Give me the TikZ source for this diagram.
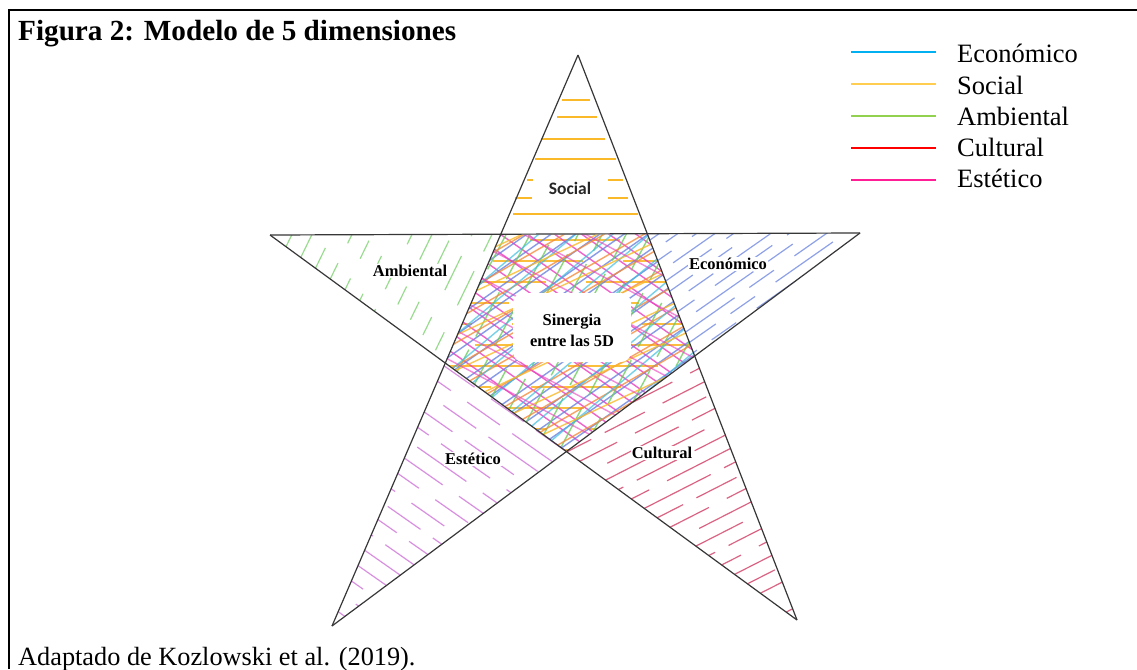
\documentclass[tikz,border=0pt]{standalone}
\usepackage{fontspec}
\setmainfont{Liberation Serif}
\newfontfamily\calib{Carlito}
\definecolor{ceco}{RGB}{0,176,240}
\definecolor{csoc}{RGB}{255,205,80}
\definecolor{camb}{RGB}{146,208,80}
\definecolor{ccul}{RGB}{255,0,0}
\definecolor{cest}{RGB}{255,30,150}
\definecolor{hsoc}{RGB}{250,185,40}
\definecolor{hamb}{RGB}{110,205,95}
\definecolor{heco}{RGB}{105,130,225}
\definecolor{hest}{RGB}{210,125,220}
\definecolor{hcul}{RGB}{210,60,100}
\definecolor{hmag}{RGB}{235,60,190}
\definecolor{hora}{RGB}{245,140,60}
\definecolor{hcya}{RGB}{60,190,225}
\definecolor{starc}{RGB}{55,55,55}
\tikzset{
  starline/.style={draw=starc, line width=1.2pt},
  hl/.style={line width=1.2pt},
  cl/.style={line width=1.4pt},
  lbl/.style={font=\fontsize{16.5}{21}\selectfont\bfseries, inner sep=1pt, align=center},
  legtxt/.style={font=\fontsize{26.5}{30}\selectfont, anchor=base west, inner sep=0pt},
  legline/.style={line width=1.3pt}
}
\begin{document}
\begin{tikzpicture}[x=1pt,y=-1pt]
\useasboundingbox (0,0) rectangle (1137,669);
\fill[white] (0,0) rectangle (1137,669);
% frame
\draw[line width=2.6pt] (9,669) -- (9,10) -- (1137,10);
% star points
\coordinate (T) at (578,55);
\coordinate (L) at (270,235);
\coordinate (R) at (860,233);
\coordinate (BL) at (332,626);
\coordinate (BR) at (797,620);
\coordinate (P1) at (500.5,235);
\coordinate (P2) at (647,234);
\coordinate (P3) at (695,356);
\coordinate (P4) at (566,451);
\coordinate (P5) at (445,363);
% Social hatch
\begin{scope}[hl, draw=hsoc]
\draw (562,100) -- (590,100);
\draw (557,117) -- (597,117);
\draw (541,139) -- (605,139);
\draw (535,159) -- (616,159);
\draw (527,180) -- (533,180); \draw (608,180) -- (623,180);
\draw (515,198) -- (532,198); \draw (608,198) -- (628,198);
\draw (513,214) -- (638,214);
\end{scope}
% Ambiental hatch
\begin{scope}
\clip (L) -- (P1) -- (P5) -- cycle;
\foreach \k in {-4,...,12}
  \draw[hl, draw=hamb, opacity=.7, dash pattern=on 38pt off 22pt on 20pt off 30pt, dash phase=\k*17pt]
    (300+\k*20,300) ++(-64:-200) -- ++(-64:400);
\end{scope}
% Economico hatch
\begin{scope}
\clip (R) -- (P2) -- (P3) -- cycle;
\foreach \k in {0,...,13}
  \draw[hl, draw=heco, opacity=.75, dash pattern=on 70pt off 18pt on 30pt off 25pt, dash phase=\k*23pt]
    (760,150+\k*13) ++(-35:-300) -- ++(-35:600);
\end{scope}
% Estetico hatch
\begin{scope}
\clip (BL) -- (P5) -- (P4) -- cycle;
\foreach \k in {0,...,17}
  \draw[hl, draw=hest, opacity=.85, dash pattern=on 60pt off 20pt on 40pt off 15pt, dash phase=\k*29pt]
    (450,370+\k*20) ++(35:-300) -- ++(35:600);
\end{scope}
% Cultural hatch
\begin{scope}
\clip (BR) -- (P3) -- (P4) -- cycle;
\foreach \k in {0,...,20}
  \draw[hl, draw=hcul, opacity=.8, dash pattern=on 80pt off 15pt on 45pt off 20pt, dash phase=\k*31pt]
    (700,352+\k*16) ++(-27:-300) -- ++(-27:600);
\end{scope}
% Centre cross hatching
\begin{scope}
\clip (P1) -- (P2) -- (P3) -- (P4) -- (P5) -- cycle;
\foreach \k in {0,...,10}
  \draw[cl, draw=hsoc, opacity=.9, dash pattern=on 90pt off 40pt, dash phase=\k*37pt]
    (570,240+\k*21) ++(0:-300) -- ++(0:600);
\foreach \k in {-12,...,12}
  \draw[cl, draw=hmag, opacity=.8] (570,340+\k*19) ++(35:-300) -- ++(35:600);
\foreach \k in {-12,...,12}
  \draw[cl, draw=heco, opacity=.8] (570,340+\k*17) ++(-35:-300) -- ++(-35:600);
\foreach \k in {-12,...,12}
  \draw[cl, draw=hamb, opacity=.8, dash pattern=on 50pt off 15pt, dash phase=\k*11pt] (570+\k*24,340) ++(-62:-300) -- ++(-62:600);
\foreach \k in {-10,...,10}
  \draw[cl, draw=hora, opacity=.8] (570,346+\k*23) ++(-30:-300) -- ++(-30:600);
\foreach \k in {-8,...,8}
  \draw[cl, draw=hcya, opacity=.7] (570,332+\k*31) ++(-40:-300) -- ++(-40:600);
\foreach \k in {-8,...,8}
  \draw[cl, draw=hsoc, opacity=.8] (570,352+\k*35) ++(-25:-300) -- ++(-25:600);
\foreach \k in {-8,...,8}
  \draw[cl, draw=hmag, opacity=.6] (570,325+\k*33) ++(28:-300) -- ++(28:600);
\end{scope}
\fill[white, rounded corners=10pt] (513,293) rectangle (631,362);
% star lines
\draw[starline] (T) -- (BL);
\draw[starline] (T) -- (BR);
\draw[starline] (L) -- (R);
\draw[starline] (L) -- (BR);
\draw[starline] (R) -- (BL);
% labels
\node[lbl, font=\fontsize{17.5}{20}\selectfont\calib\bfseries, text=black!85] (social) at (570,188) {Social};
\node[lbl, fill=white] (ambiental) at (410,271) {Ambiental};
\node[lbl, fill=white] (economico) at (728,264) {Económico};
\node[lbl] (sinergia) at (572,330) {Sinergia\\entre las 5D};
\node[lbl, fill=white] (estetico) at (473,459) {Estético};
\node[lbl, fill=white] (cultural) at (662,453) {Cultural};
% title and caption
\node[anchor=base west, inner sep=0pt, font=\fontsize{29.2}{34}\selectfont\bfseries] (title) at (18,41) {Figura 2: Modelo de 5 dimensiones};
\node[anchor=base west, inner sep=0pt, font=\fontsize{26.3}{30}\selectfont] (caption) at (18,665) {Adaptado de Kozlowski et al. (2019).};
% legend
\coordinate (l1a) at (851,52);  \coordinate (l1b) at (936,52);
\coordinate (l2a) at (851,84);  \coordinate (l2b) at (936,84);
\coordinate (l3a) at (851,116); \coordinate (l3b) at (936,116);
\coordinate (l4a) at (851,148); \coordinate (l4b) at (936,148);
\coordinate (l5a) at (851,180); \coordinate (l5b) at (936,180);
\draw[legline, draw=ceco] (l1a) -- (l1b);
\draw[legline, draw=csoc] (l2a) -- (l2b);
\draw[legline, draw=camb] (l3a) -- (l3b);
\draw[legline, draw=ccul] (l4a) -- (l4b);
\draw[legline, draw=cest] (l5a) -- (l5b);
\node[legtxt] (leco) at (957,63) {Económico};
\node[legtxt] (lsoc) at (957,94) {Social};
\node[legtxt] (lamb) at (957,125.5) {Ambiental};
\node[legtxt] (lcul) at (957,156.5) {Cultural};
\node[legtxt] (lest) at (957,187.5) {Estético};
\end{tikzpicture}
\end{document}
